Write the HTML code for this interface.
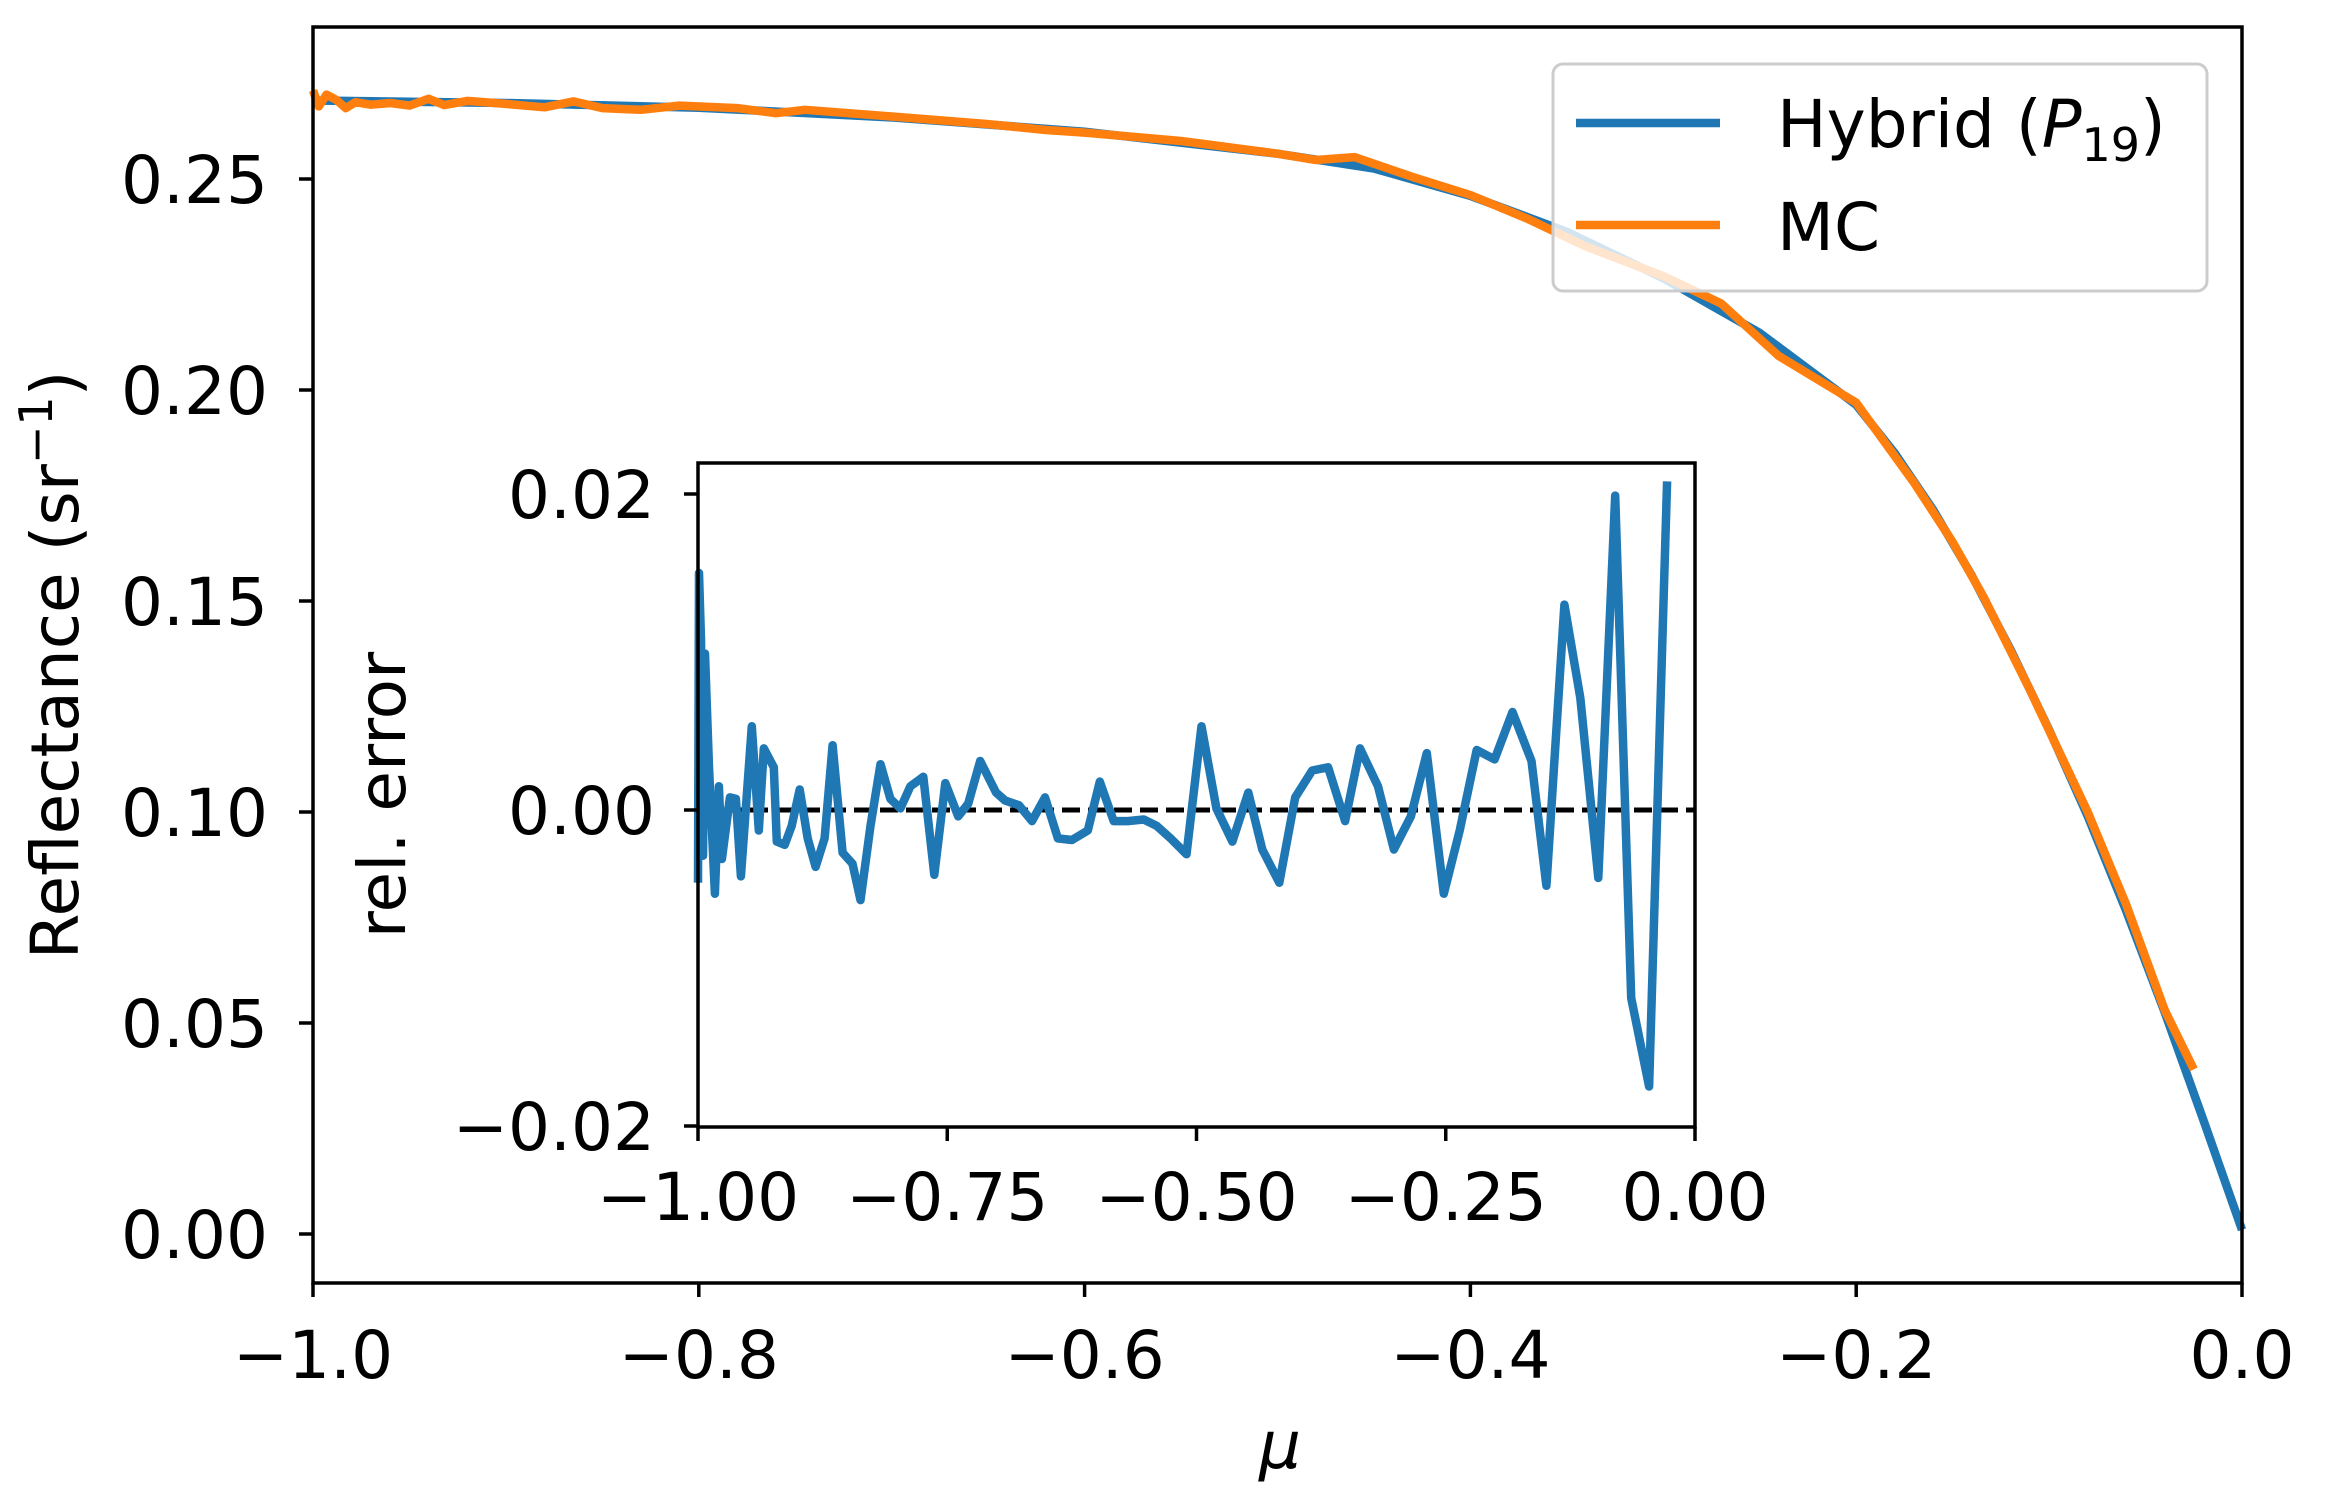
<!DOCTYPE html>
<html><head><meta charset="utf-8"><style>
html,body{margin:0;padding:0;background:#fff;}
svg{display:block;font-family:"DejaVu Sans","Liberation Sans",sans-serif;}
</style></head><body>
<svg id="chart" width="2326" height="1505" viewBox="0 0 2326 1505" xmlns="http://www.w3.org/2000/svg">
<rect width="2326" height="1505" fill="#fff"/>
<g id="main"></g>
<g id="inset"></g>
</svg>
<script>
const muHybrid=[-1.0,-0.9,-0.8,-0.7,-0.6,-0.5,-0.45,-0.4,-0.35,-0.3,-0.25,-0.2,-0.18,-0.16,-0.14,-0.12,-0.10,-0.08,-0.06,-0.04,-0.02,0];
const refHybrid=[.2686,.2680,.2669,.2646,.2612,.2560,.2525,.2460,.2375,.2265,.2135,.1965,.1850,.1715,.1560,.1385,.1195,.0990,.0765,.0525,.0270,.0010];
const muMC=[-1.000,-0.997,-0.993,-0.988,-0.983,-0.978,-0.970,-0.960,-0.950,-0.940,-0.932,-0.920,-0.900,-0.880,-0.865,-0.850,-0.830,-0.810,-0.780,-0.760,-0.745,-0.700,-0.650,-0.620,-0.600,-0.550,-0.500,-0.480,-0.460,-0.430,-0.400,-0.370,-0.340,-0.300,-0.270,-0.240,-0.200,-0.170,-0.150,-0.134,-0.110,-0.080,-0.060,-0.040,-0.025];
const refMC=[.2710,.2672,.2700,.2688,.2668,.2682,.2676,.2680,.2674,.2690,.2675,.2685,.2678,.2670,.2684,.2668,.2664,.2674,.2668,.2656,.2664,.2648,.2630,.2616,.2610,.2590,.2560,.2545,.2552,.2505,.2462,.2405,.2340,.2270,.2205,.2080,.1970,.1780,.1640,.1510,.1290,.1000,.0780,.0530,.0390];
const muErr=[-1.000,-0.999,-0.997,-0.995,-0.993,-0.989,-0.983,-0.979,-0.976,-0.968,-0.962,-0.957,-0.946,-0.939,-0.934,-0.924,-0.921,-0.913,-0.906,-0.898,-0.890,-0.882,-0.873,-0.865,-0.855,-0.845,-0.837,-0.827,-0.817,-0.807,-0.797,-0.787,-0.774,-0.763,-0.752,-0.739,-0.729,-0.717,-0.701,-0.692,-0.678,-0.665,-0.652,-0.639,-0.625,-0.609,-0.597,-0.583,-0.569,-0.553,-0.540,-0.526,-0.510,-0.495,-0.480,-0.464,-0.448,-0.434,-0.417,-0.401,-0.384,-0.368,-0.351,-0.336,-0.318,-0.302,-0.285,-0.269,-0.252,-0.236,-0.219,-0.201,-0.183,-0.164,-0.149,-0.131,-0.115,-0.097,-0.080,-0.064,-0.046,-0.028];
const relErr=[-0.0046,0.0150,0.0108,-0.0029,0.0099,0.0027,-0.0053,0.0015,-0.0031,0.0008,0.0007,-0.0042,0.0053,-0.0013,0.0039,0.0027,-0.0020,-0.0022,-0.0010,0.0013,-0.0018,-0.0036,-0.0018,0.0041,-0.0027,-0.0034,-0.0057,-0.0010,0.0029,0.0007,0.0001,0.0015,0.0021,-0.0041,0.0017,-0.0004,0.0004,0.0031,0.0011,0.0006,0.0003,-0.0007,0.0008,-0.0018,-0.0019,-0.0013,0.0018,-0.0007,-0.0007,-0.0006,-0.0010,-0.0018,-0.0028,0.0053,0.0001,-0.0020,0.0011,-0.0025,-0.0046,0.0008,0.0025,0.0027,-0.0007,0.0039,0.0015,-0.0025,-0.0004,0.0036,-0.0053,-0.0013,0.0038,0.0032,0.0062,0.0031,-0.0048,0.0130,0.0071,-0.0043,0.0199,-0.0119,-0.0175,0.0208];
const mainXTicks=[-1.0,-0.8,-0.6,-0.4,-0.2,0.0];
const mainXTickLabels=["−1.0","−0.8","−0.6","−0.4","−0.2","0.0"];
const mainYTicks=[0,0.05,0.10,0.15,0.20,0.25];
const mainYTickLabels=["0.00","0.05","0.10","0.15","0.20","0.25"];
const insetXTicks=[-1,-0.75,-0.5,-0.25,0];
const insetXTickLabels=["−1.00","−0.75","−0.50","−0.25","0.00"];
const insetYTicks=[-0.02,0,0.02];
const insetYTickLabels=["−0.02","0.00","0.02"];

const NS="http://www.w3.org/2000/svg";
function mk(parent,tag,attrs,text){const e=document.createElementNS(NS,tag);for(const k in attrs)e.setAttribute(k,attrs[k]);if(text!==undefined)e.textContent=text;parent.appendChild(e);return e;}
const FS=66;
const LW=8.5;
// main axes
const M={l:313,r:2242,t:27,b:1283};
const mx=v=>M.l+(v+1)*(M.r-M.l);
const my=v=>1234-(v/0.25)*(1234-179);
const gm=document.getElementById('main');
function pathOf(xs,ys,fx,fy){return xs.map((x,i)=>(i?'L':'M')+fx(x).toFixed(1)+' '+fy(ys[i]).toFixed(1)).join(' ');}
const ph=mk(gm,'path',{d:pathOf(muHybrid,refHybrid,mx,my),fill:'none',stroke:'#1f77b4','stroke-width':LW,'stroke-linejoin':'round'});


const pm=mk(gm,'path',{d:pathOf(muMC,refMC,mx,my),fill:'none',stroke:'#ff7f0e','stroke-width':LW,'stroke-linejoin':'round'});


const fr=mk(gm,'rect',{x:M.l,y:M.t,width:M.r-M.l,height:M.b-M.t,fill:'none',stroke:'#000','stroke-width':3.5});


mainXTicks.forEach((v,i)=>{const x=mx(v);mk(gm,'line',{x1:x,x2:x,y1:M.b,y2:M.b+14,stroke:'#000','stroke-width':3.5});
 const t=mk(gm,'text',{x:x,y:1378,'font-size':FS,'text-anchor':'middle'},mainXTickLabels[i]);
 
 });
mainYTicks.forEach((v,i)=>{const y=my(v);mk(gm,'line',{x1:M.l-14,x2:M.l,y1:y,y2:y,stroke:'#000','stroke-width':3.5});
 const t=mk(gm,'text',{x:268,y:y+24,'font-size':FS,'text-anchor':'end'},mainYTickLabels[i]);
 
 });
const xl=mk(gm,'text',{x:1280,y:1468,'font-size':FS,'font-style':'italic','text-anchor':'middle'},'μ');


const yl=mk(gm,'text',{x:0,y:0,'font-size':FS,'text-anchor':'middle',transform:'translate(78,665) rotate(-90)'});
yl.innerHTML='Reflectance (sr<tspan dy="-26" font-size="46">−1</tspan><tspan dy="26">)</tspan>';



// legend
const lg=mk(gm,'g',{});


mk(lg,'rect',{x:1553,y:64,width:654,height:227,rx:10,fill:'#fff','fill-opacity':0.8,stroke:'#ccc','stroke-width':3});
mk(lg,'line',{x1:1576,x2:1720,y1:123,y2:123,stroke:'#1f77b4','stroke-width':LW});
const l1=mk(lg,'text',{x:1777,y:147,'font-size':FS});
l1.innerHTML='Hybrid (<tspan font-style="italic">P</tspan><tspan dy="14" font-size="46">19</tspan><tspan dy="-14">)</tspan>';


mk(lg,'line',{x1:1576,x2:1720,y1:225,y2:225,stroke:'#ff7f0e','stroke-width':LW});
const l2=mk(lg,'text',{x:1777,y:250,'font-size':FS},'MC');



// inset
const I={l:698,r:1695,t:463,b:1127};
const ix=v=>I.l+(v+1)*(I.r-I.l);
const iy=v=>810-(v/0.02)*(810-494);
const gi=document.getElementById('inset');


mk(gi,'rect',{x:I.l,y:I.t,width:I.r-I.l,height:I.b-I.t,fill:'#fff'});
const zl=mk(gi,'line',{x1:I.l,x2:I.r,y1:iy(0),y2:iy(0),stroke:'#000','stroke-width':5,'stroke-dasharray':'18 8'});


const pe=mk(gi,'path',{d:pathOf(muErr,relErr,ix,iy),fill:'none',stroke:'#1f77b4','stroke-width':LW,'stroke-linejoin':'round'});


mk(gi,'rect',{x:I.l,y:I.t,width:I.r-I.l,height:I.b-I.t,fill:'none',stroke:'#000','stroke-width':3.5});
insetXTicks.forEach((v,i)=>{const x=ix(v);mk(gi,'line',{x1:x,x2:x,y1:I.b,y2:I.b+14,stroke:'#000','stroke-width':3.5});
 const t=mk(gi,'text',{x:x,y:1220,'font-size':FS,'text-anchor':'middle'},insetXTickLabels[i]);
 
 });
insetYTicks.forEach((v,i)=>{const y=iy(v);mk(gi,'line',{x1:I.l-14,x2:I.l,y1:y,y2:y,stroke:'#000','stroke-width':3.5});
 const t=mk(gi,'text',{x:655,y:y+24,'font-size':FS,'text-anchor':'end'},insetYTickLabels[i]);
 
 });
const il=mk(gi,'text',{x:0,y:0,'font-size':FS,'text-anchor':'middle',transform:'translate(405,795) rotate(-90)'},'rel. error');


</script>
</body></html>
